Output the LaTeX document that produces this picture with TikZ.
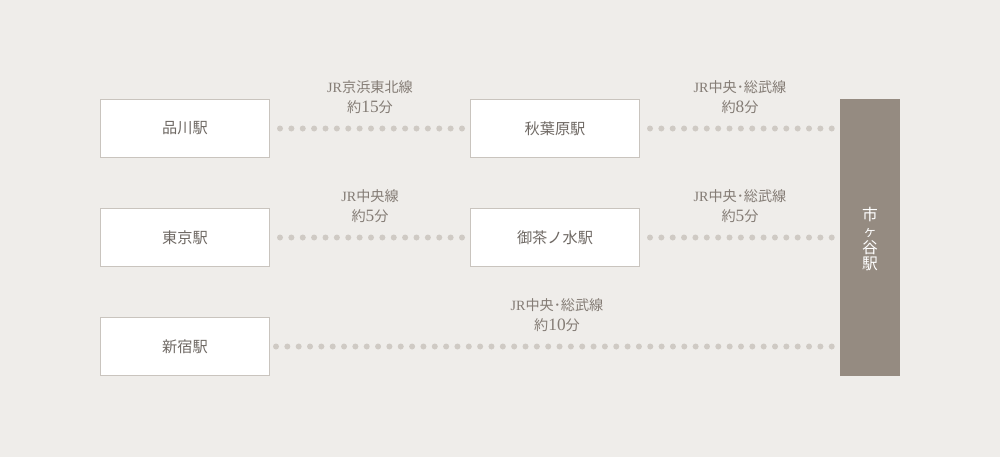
\documentclass[tikz,border=0pt]{standalone}
\usepackage{fontspec}
\usetikzlibrary{decorations}
\setmainfont{Liberation Serif}
\newfontfamily\cjk{Noto Sans CJK JP}
\definecolor{bg}{HTML}{EFEDEA}
\definecolor{boxline}{HTML}{C9C4BE}
\definecolor{txt}{HTML}{6F6964}
\definecolor{lbl}{HTML}{847C75}
\definecolor{dotc}{HTML}{CFCAC4}
\definecolor{dest}{HTML}{958B81}
\begin{document}
\begin{tikzpicture}[x=0.75pt,y=-0.75pt,
  station/.style={draw=boxline,fill=white,line width=0.75pt,minimum width=169*0.75pt,minimum height=58*0.75pt,inner sep=0pt,text=txt,font=\cjk\fontsize{11.4pt}{13pt}\selectfont},
  destbox/.style={fill=dest,minimum width=60*0.75pt,minimum height=277*0.75pt,inner sep=0pt},
  lbl/.style={text=lbl,align=center,inner sep=0pt,font=\fontsize{10.6pt}{15.5pt}\selectfont},
  num/.style={},
  dots/.style={draw=dotc,line width=4.5pt,line cap=round,dash pattern=on 0pt off 8.5pt,dash expand off}]
\newcommand\mynum[1]{{\fontsize{13pt}{15pt}\selectfont #1}}
\useasboundingbox[fill=bg] (0,0) rectangle (1000,457);
% stations
\node[station] (shinagawa) at (185,128.5) {品川駅};
\node[station] (akiba) at (555,128.5) {秋葉原駅};
\node[station] (tokyo) at (185,237.5) {東京駅};
\node[station] (ochanomizu) at (555,237.5) {御茶ノ水駅};
\node[station] (shinjuku) at (185,346.5) {新宿駅};
\node[destbox] (ichigaya) at (870,237.5) {};
\node[text=white,align=center,inner sep=0pt,font=\cjk\fontsize{11.8pt}{12.4pt}\selectfont] (ichitxt) at (870,239) {市\\{\fontsize{10pt}{10pt}\selectfont ヶ}\\谷\\駅};
% connectors
\draw[dots] ([xshift=10*0.75pt]shinagawa.east) -- ([xshift=-8*0.75pt]akiba.west);
\draw[dots] ([xshift=10*0.75pt]akiba.east) -- ([xshift=-8*0.75pt]ichigaya.west |- akiba.east);
\draw[dots] ([xshift=10*0.75pt]tokyo.east) -- ([xshift=-8*0.75pt]ochanomizu.west);
\draw[dots] ([xshift=10*0.75pt]ochanomizu.east) -- ([xshift=-8*0.75pt]ichigaya.west |- ochanomizu.east);
\draw[dots] ([xshift=6*0.75pt]shinjuku.east) -- ([xshift=-8*0.75pt]ichigaya.west |- shinjuku.east);
% labels
\node[lbl] (l1) at (370,97) {JR{\cjk 京浜東北線}\\{\cjk 約}\mynum{15}{\cjk 分}};
\node[lbl] (l2) at (740,97) {JR{\cjk 中央･総武線}\\{\cjk 約}\mynum{8}{\cjk 分}};
\node[lbl] (l3) at (370,206) {JR{\cjk 中央線}\\{\cjk 約}\mynum{5}{\cjk 分}};
\node[lbl] (l4) at (740,206) {JR{\cjk 中央･総武線}\\{\cjk 約}\mynum{5}{\cjk 分}};
\node[lbl] (l5) at (557,315) {JR{\cjk 中央･総武線}\\{\cjk 約}\mynum{10}{\cjk 分}};
\end{tikzpicture}
\end{document}
